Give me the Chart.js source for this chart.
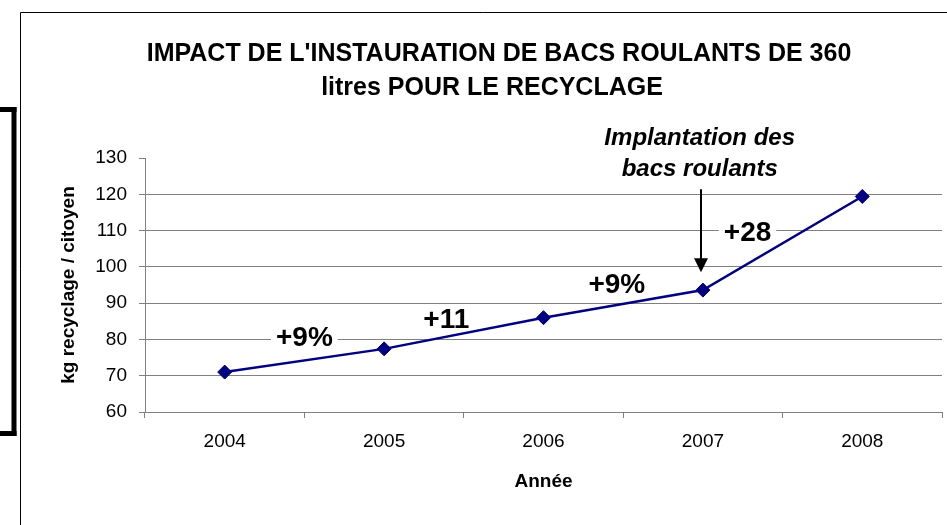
<!DOCTYPE html>
<html><head><meta charset="utf-8">
<script src="https://cdn.jsdelivr.net/npm/chart.js@4"></script>
<style>html,body{margin:0;padding:0;background:#fff;overflow:hidden}#wrap{position:relative;width:947px;height:525px}</style>
</head><body><div id="wrap"><canvas id="c" width="947" height="525"></canvas></div>
<script>
// ---- data ----
const years = ['2004', '2005', '2006', '2007', '2008'];
const kgPerCitizen = [71.0, 77.4, 86.0, 93.6, 119.4];
const yMin = 60, yMax = 130, yStep = 10;
const titleLines = ["IMPACT DE L'INSTAURATION DE BACS ROULANTS DE 360", "litres POUR LE RECYCLAGE"];
const yTitle = 'kg recyclage / citoyen';
const xTitle = 'Année';
// growth labels: text, category position (index), value position
const growthText = ['+9%', '+11', '+9%', '+28'];
const growthAtIndex = [0.5, 1.39, 2.46, 3.28];
const growthAtValue = [80.5, 85.5, 95.2, 109.6];
// "implantation" callout
const calloutLines = ['Implantation des', 'bacs roulants'];
const calloutAtIndex = 2.98;
const calloutAtValue = [135.5, 127.0];
const arrowAtIndex = 2.99;
const arrowFrom = 121.4, arrowTo = 98.5;

const FONT = 'Arial, "Liberation Sans", sans-serif';
Chart.defaults.font.family = FONT;

const decor = {
  id: 'decor',
  beforeDraw(chart) {
    const ctx = chart.ctx;
    ctx.save();
    ctx.fillStyle = '#fff';
    ctx.fillRect(0, 0, chart.width, chart.height);
    ctx.strokeStyle = '#000';
    ctx.lineWidth = 1;
    ctx.beginPath();
    ctx.moveTo(20.5, 525); ctx.lineTo(20.5, 12.5); ctx.lineTo(947, 12.5);
    ctx.stroke();
    ctx.fillStyle = '#000';
    ctx.fillRect(0, 107, 16.5, 5);
    ctx.fillRect(11.5, 107, 5, 329);
    ctx.fillRect(0, 431, 16.5, 5);
    ctx.restore();
  },
  beforeDatasetsDraw(chart) {
    const ctx = chart.ctx, xs = chart.scales.x, ys = chart.scales.y;
    ctx.save();
    ctx.font = 'bold 28px ' + FONT;
    ctx.textAlign = 'center';
    ctx.textBaseline = 'middle';
    growthText.forEach((t, i) => {
      const x = xs.getPixelForValue(growthAtIndex[i]);
      const y = ys.getPixelForValue(growthAtValue[i]);
      const w = ctx.measureText(t).width;
      ctx.fillStyle = '#fff';
      ctx.fillRect(x - w / 2 - 5, y - 13, w + 10, 26);
      ctx.fillStyle = '#000';
      ctx.fillText(t, x, y + 1);
    });
    ctx.restore();
  },
  afterDraw(chart) {
    const ctx = chart.ctx, xs = chart.scales.x, ys = chart.scales.y;
    ctx.save();
    ctx.fillStyle = '#000';
    ctx.textAlign = 'center';
    ctx.textBaseline = 'middle';
    ctx.font = 'bold 25px ' + FONT;
    ctx.fillText(titleLines[0], 499, 54);
    ctx.fillText(titleLines[1], 492, 88);
    ctx.font = 'italic bold 24px ' + FONT;
    const cx = xs.getPixelForValue(calloutAtIndex);
    calloutLines.forEach((t, i) => ctx.fillText(t, cx, ys.getPixelForValue(calloutAtValue[i])));
    const ax = Math.round(xs.getPixelForValue(arrowAtIndex));
    const y0 = ys.getPixelForValue(arrowFrom), y1 = ys.getPixelForValue(arrowTo);
    ctx.strokeStyle = '#000';
    ctx.lineWidth = 2;
    ctx.beginPath(); ctx.moveTo(ax, y0); ctx.lineTo(ax, y1 - 12); ctx.stroke();
    ctx.beginPath(); ctx.moveTo(ax - 7, y1 - 14); ctx.lineTo(ax + 7, y1 - 14); ctx.lineTo(ax, y1); ctx.closePath(); ctx.fill();
    ctx.restore();
  }
};

new Chart(document.getElementById('c'), {
  type: 'line',
  data: {
    labels: years,
    datasets: [{
      data: kgPerCitizen,
      borderColor: '#000080',
      backgroundColor: '#000080',
      borderWidth: 2.5,
      pointStyle: 'rectRot',
      pointRadius: 7,
      pointBorderWidth: 1,
      pointBorderColor: '#000080',
      pointBackgroundColor: '#000080',
      tension: 0,
      fill: false
    }]
  },
  options: {
    responsive: false,
    animation: false,
    events: [],
    layout: { autoPadding: false, padding: { left: 0, right: 5, top: 158, bottom: 0 } },
    plugins: { legend: { display: false }, tooltip: { enabled: false }, title: { display: false } },
    scales: {
      x: {
        type: 'category',
        offset: true,
        grid: { offset: true, drawOnChartArea: false, color: '#808080', tickColor: '#808080', tickLength: 6 },
        border: { color: '#808080', width: 1 },
        ticks: { color: '#000', font: { size: 19 }, padding: 12, maxRotation: 0, autoSkip: false },
        title: { display: true, text: xTitle, color: '#000', font: { size: 19, weight: 'bold' }, padding: { top: 0, bottom: 32 } },
        afterFit(s) { s.height = 113; }
      },
      y: {
        min: yMin, max: yMax,
        ticks: { stepSize: yStep, color: '#000', font: { size: 19 }, padding: 12 },
        grid: {
          color: c => (c.tick && c.tick.value === yMax) ? 'rgba(0,0,0,0)' : '#808080',
          tickColor: '#808080', tickLength: 6
        },
        border: { color: '#808080', width: 1 },
        title: { display: true, text: yTitle, color: '#000', font: { size: 19, weight: 'bold' }, padding: { top: 57, bottom: 0 } },
        afterFit(s) { s.width = 145; }
      }
    }
  },
  plugins: [decor]
});
</script>
</body></html>
